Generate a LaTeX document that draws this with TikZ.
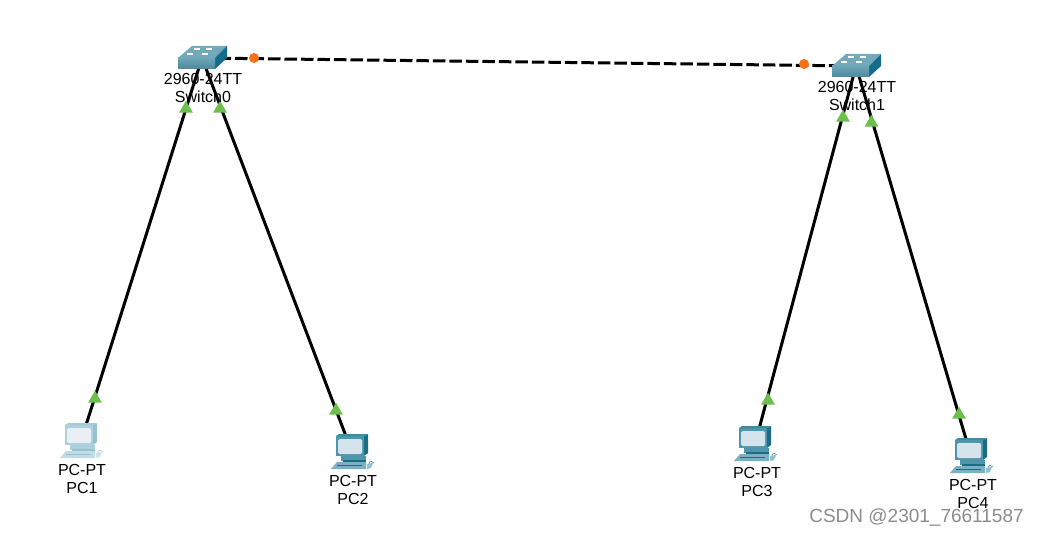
\documentclass[tikz,border=0pt]{standalone}
\usepackage{fontspec}
\setmainfont{Liberation Sans}
\usepackage{xcolor}
\usetikzlibrary{arrows.meta, positioning, shapes.geometric}
\definecolor{pfront}{RGB}{79,150,172}
\definecolor{pside}{RGB}{28,108,133}
\definecolor{pscreen}{RGB}{213,228,236}
\definecolor{pfrontpale}{RGB}{172,208,220}
\definecolor{psidepale}{RGB}{150,194,208}
\definecolor{pscreenpale}{RGB}{232,240,245}
\definecolor{swtop}{RGB}{112,170,187}
\definecolor{swfront}{RGB}{84,150,172}
\definecolor{swside}{RGB}{20,108,138}
\definecolor{upgreen}{RGB}{108,191,75}
\definecolor{dotorange}{RGB}{255,112,16}

\tikzset{
	pics/pcicon/.style n args={3}{code={
		\fill[#1] (-16,-16) -- (12,-16) -- (12,4) -- (-16,4) -- cycle;
		\fill[#2] (12,-16) -- (16,-18) -- (16,1) -- (12,4) -- cycle;
		\fill[#1!70!#2] (-16,-16) -- (-13,-18) -- (16,-18) -- (12,-16) -- cycle;
		\fill[#3, rounded corners=1.5pt] (-14,-13) -- (10,-13) -- (10,2) -- (-14,2) -- cycle;
		\fill[#1] (-11,4) -- (14,4) -- (14,9) -- (-11,9) -- cycle;
		\fill[#2] (-9,8) -- (14,8) -- (14,10) -- (-9,10) -- cycle;
		\fill[#1!75!white] (-21,17) -- (-15,10) -- (14,10) -- (14,17) -- cycle;
		\draw[#2, line width=0.7pt] (-15,13) -- (10,13);
		\fill[#1!60!white] (15,12) -- (21,11) -- (19,16) -- (15,17) -- cycle;
		\draw[#1, line width=0.6pt] (17,12) .. controls (17,8) and (21,9) .. (22,11);
	}},
	pics/swicon/.style={code={
		\fill[swtop] (-24,0) -- (-10,-12) -- (25,-12) -- (13,0) -- cycle;
		\fill[swside] (13,0) -- (25,-12) -- (25,0) -- (13,11) -- cycle;
		\shade[top color=swfront!85!white, bottom color=swfront!90!black] (-24,0) rectangle (13,11);
		\foreach \p in {(-5,-9),(-12,-4),(7,-9),(3,-4)}
			\fill[white] \p ++(-3,0.7) rectangle ++(6,-1.4);
	}},
	device/.style={inner sep=0pt, outer sep=0pt, minimum size=0pt},
	link/.style={line width=3pt, draw=black},
	trunk/.style={link, dash pattern=on 12.5pt off 4pt},
	uptri/.style={regular polygon, regular polygon sides=3, fill=upgreen,
		minimum size=16pt, inner sep=0pt, outer sep=0pt},
	portdot/.style={circle, fill=dotorange, minimum size=10pt, inner sep=0pt},
	devlabel/.style={align=center, inner sep=0pt, font=\fontsize{16}{18}\selectfont}
}

\begin{document}
\begin{tikzpicture}[x=1pt, y=-1pt]
	\useasboundingbox (0,0) rectangle (1038,534);
	\node[device] (sw0) at (202,58) {};
	\node[device] (sw1) at (856,66) {};
	\node[device] (pc1) at (81,441) {};
	\node[device] (pc2) at (352,452) {};
	\node[device] (pc3) at (755,444) {};
	\node[device] (pc4) at (971,456) {};

	\draw[trunk] (sw0) -- (sw1);
	\foreach \a/\b in {sw0/pc1,sw0/pc2,sw1/pc3,sw1/pc4}
		\draw[link] (\a) -- (\b);

	\node[uptri] (t01) at (186,108.7) {};
	\node[uptri] (t02) at (220,108.7) {};
	\node[uptri] (t13) at (843,117.7) {};
	\node[uptri] (t14) at (871.5,122.7) {};
	\node[uptri] (t1) at (95,398.7) {};
	\node[uptri] (t2) at (336,410.7) {};
	\node[uptri] (t3) at (768,400.7) {};
	\node[uptri] (t4) at (959,414.7) {};
	\node[portdot] (d0) at (254,58) {};
	\node[portdot] (d1) at (804,64) {};

	\pic at (sw0) {swicon};
	\pic at (sw1) {swicon};
	\pic at (pc1) {pcicon={pfrontpale}{psidepale}{pscreenpale}};
	\foreach \n in {pc2,pc3,pc4}
		\pic at (\n) {pcicon={pfront}{pside}{pscreen}};

	\node[devlabel, below=15.5pt of sw0, xshift=1pt] (sw0text) {2960-24TT\\Switch0};
	\node[devlabel, below=15.5pt of sw1, xshift=1pt] (sw1text) {2960-24TT\\Switch1};
	\node[devlabel, below=23pt of pc1, xshift=1pt] (pc1text) {PC-PT\\PC1};
	\node[devlabel, below=23pt of pc2, xshift=1pt] (pc2text) {PC-PT\\PC2};
	\node[devlabel, below=23pt of pc3, xshift=2pt] (pc3text) {PC-PT\\PC3};
	\node[devlabel, below=23pt of pc4, xshift=2pt] (pc4text) {PC-PT\\PC4};

	\node[inner sep=0pt, text=black!45, font=\fontsize{19}{20}\selectfont] (wm) at (916.5,518) {CSDN @2301\_76611587};
\end{tikzpicture}
\end{document}
